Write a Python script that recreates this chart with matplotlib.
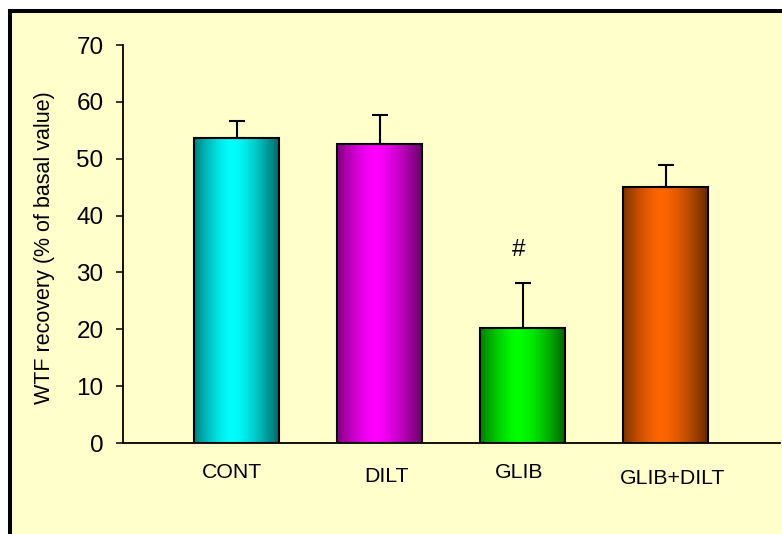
import numpy as np
import matplotlib
matplotlib.use("Agg")
import matplotlib.pyplot as plt
from matplotlib.patches import Rectangle
from matplotlib.colors import to_rgb

# ---- data ----
categories = ["CONT", "DILT", "GLIB", "GLIB+DILT"]
values = [53.6, 52.6, 20.2, 45.0]
errors = [3.1, 5.1, 7.9, 3.9]
bar_colors = ["#00FFFF", "#FF00FF", "#00FF00", "#FF6600"]
y_ticks = [0, 10, 20, 30, 40, 50, 60, 70]
y_label = "WTF recovery (% of basal value)"
sig_marks = ["", "", "#", ""]

plt.rcParams['font.family'] = ['Liberation Sans', 'DejaVu Sans']

W, H = 782, 534
fig = plt.figure(figsize=(W / 100, H / 100), dpi=100, facecolor="white")

# background panel with black border (left & top visible)
bg = Rectangle((10 / W, -0.05), 1.2, 1 - 11 / H + 0.05, transform=fig.transFigure,
               facecolor="#FFFFCC", edgecolor="black", linewidth=2.9, zorder=-10)
fig.patches.append(bg)

ax = fig.add_axes([123 / W, 1 - 443 / H, (780 - 123) / W, (443 - 45) / H])
ax.set_facecolor("none")
ax.set_zorder(5)

x = np.arange(len(categories))
bw = 0.594

# horizontal shading profile for a cylinder look
t = np.linspace(0, 1, 200)
peak = 0.45
prof = np.where(t < peak,
                1 - 0.5 * ((peak - t) / peak) ** 1.5,
                1 - 0.6 * ((t - peak) / (1 - peak)) ** 1.5)

for xi, v, e, c in zip(x, values, errors, bar_colors):
    rgb = np.array(to_rgb(c))
    img = (prof[:, None] * rgb[None, :])[None, :, :]
    ax.imshow(img, extent=(xi - bw / 2, xi + bw / 2, 0, v), aspect="auto",
              interpolation="bilinear", zorder=2)
    ax.add_patch(Rectangle((xi - bw / 2, 0), bw, v, facecolor="none",
                           edgecolor="black", linewidth=1.5, zorder=3))
    ax.errorbar([xi], [v], yerr=[[0], [e]], fmt="none", ecolor="black",
                elinewidth=1.5, capsize=5.5, capthick=1.5, zorder=4)

for xi, v, e, s in zip(x, values, errors, sig_marks):
    if s:
        ax.text(xi - 0.03, v + e + 5.8, s, ha="center", va="center", fontsize=17.5,
                color="black")

ax.set_xlim(-0.794, 3.80)
ax.set_ylim(0, 70)
ax.set_yticks(y_ticks)
ax.set_yticklabels([str(v) for v in y_ticks], fontsize=17.5)
ax.tick_params(axis="y", direction="out", length=5, width=1.1, pad=9, colors="black")
ax.set_xticks([])
for sp in ["top", "right"]:
    ax.spines[sp].set_visible(False)
ax.spines["left"].set_linewidth(1.3)
ax.spines["bottom"].set_linewidth(1.3)

# category labels (slightly staggered as in the original)
label_dx = [-0.03, 0.05, -0.025, 0.05]
label_dy = [-5.2, -5.95, -5.2, -6.3]
for xi, lab, dx, dy in zip(x, categories, label_dx, label_dy):
    ax.text(xi + dx, dy, lab, ha="center", va="center", fontsize=15.3,
            color="black", clip_on=False)

ax.set_ylabel(y_label, fontsize=15.5, color="black")
ax.yaxis.set_label_coords(-(123 - 55) / (780 - 123), 0.49)

fig.savefig("out.png", dpi=100)
